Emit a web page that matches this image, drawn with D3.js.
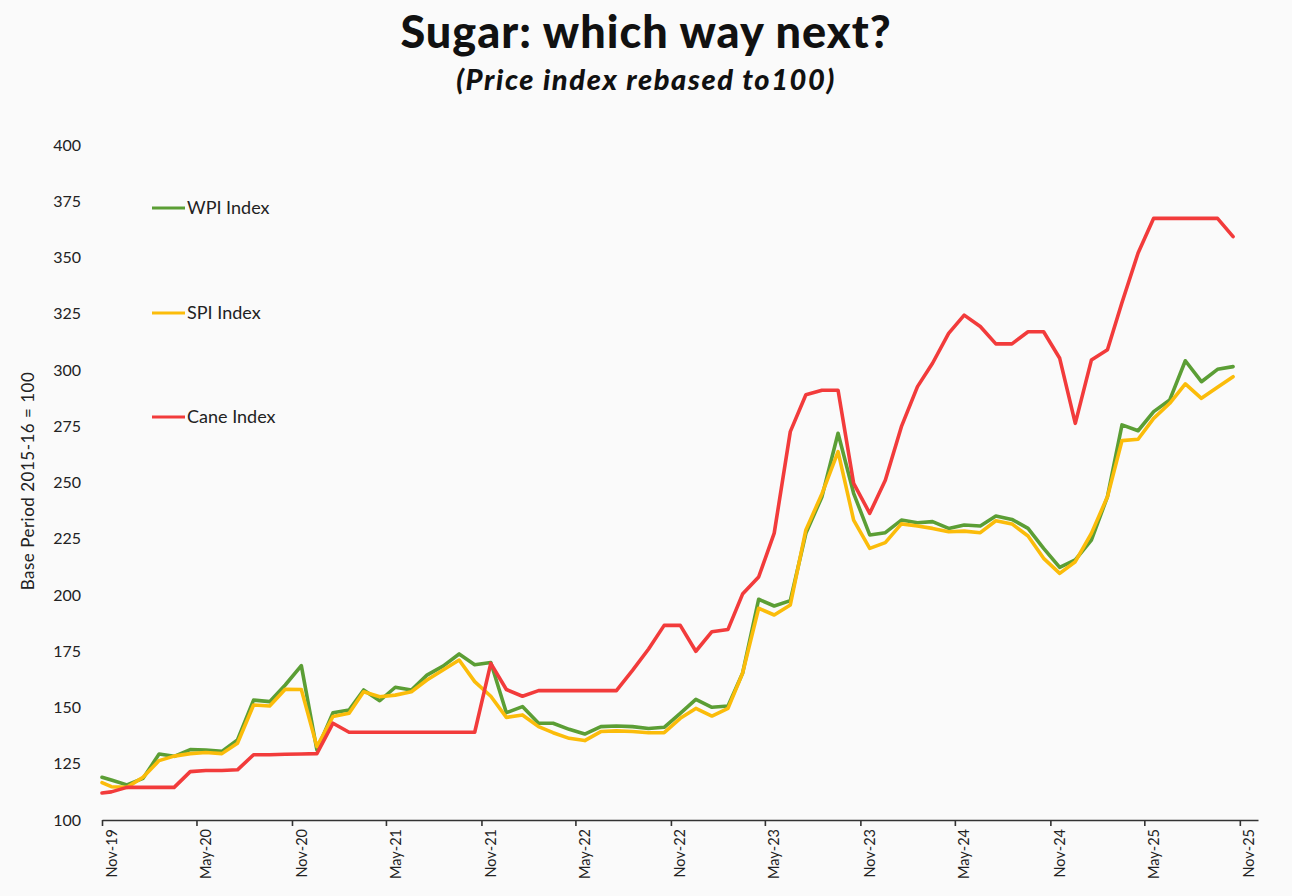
<!DOCTYPE html>
<html><head><meta charset="utf-8">
<script src="https://cdn.jsdelivr.net/npm/d3@7"></script>
<style>
html,body{margin:0;padding:0;background:#fafafa;}
svg{display:block;font-family:Lato,"Open Sans",sans-serif;}
</style></head><body>
<svg id="chart" width="1292" height="896"></svg>
<script>
// ---- data ----
const dates = ["2019-11-01","2019-11-19","2019-12-19",
"2020-01-19","2020-02-19","2020-03-19","2020-04-19","2020-05-19","2020-06-19","2020-07-19","2020-08-19","2020-09-19","2020-10-19","2020-11-19","2020-12-19",
"2021-01-19","2021-02-19","2021-03-19","2021-04-19","2021-05-19","2021-06-19","2021-07-19","2021-08-19","2021-09-19","2021-10-19","2021-11-19","2021-12-19",
"2022-01-19","2022-02-19","2022-03-19","2022-04-19","2022-05-19","2022-06-19","2022-07-19","2022-08-19","2022-09-19","2022-10-19","2022-11-19","2022-12-19",
"2023-01-19","2023-02-19","2023-03-19","2023-04-19","2023-05-19","2023-06-19","2023-07-19","2023-08-19","2023-09-19","2023-10-19","2023-11-19","2023-12-19",
"2024-01-19","2024-02-19","2024-03-19","2024-04-19","2024-05-19","2024-06-19","2024-07-19","2024-08-19","2024-09-19","2024-10-19","2024-11-19","2024-12-19",
"2025-01-19","2025-02-19","2025-03-19","2025-04-19","2025-05-19","2025-06-19","2025-07-19","2025-08-19","2025-09-19","2025-10-19"];

const wpi = [119,117.8,115.6,118.5,129.3,128.3,131.3,131.1,130.5,135.6,153.3,152.6,160,168.6,131.1,
147.7,148.9,157.8,153,159,157.8,164.4,168.4,173.8,169,170,147.7,
150.4,143,143,140.3,138.2,141.5,141.8,141.5,140.7,141.2,147.4,153.6,
150.1,150.7,165.2,198.1,195.1,197.5,227.4,243.7,271.9,245.2,226.7,227.7,
233.3,232.1,232.6,229.6,231.1,230.7,235.1,233.6,229.6,220.7,212.3,215.6,
224.4,243.7,275.6,273,281.5,286.7,304.1,294.8,300.3,301.5];

const spi = [116.6,114.8,114.5,119,126.4,128.4,129.5,130,129.5,134.1,151.1,150.7,158.1,158,132.6,
146,147.4,157,154.8,155.5,157,162.2,166.7,171.1,161.5,155,145.6,
146.7,141.5,138.8,136.3,135.3,139.3,139.6,139.3,138.8,138.8,145.2,149.6,
146.2,149.6,165.2,194.1,191.1,195.6,228.9,245,263.7,233.3,220.7,223.3,
231.6,230.7,229.6,228.1,228.4,227.7,233,231.6,226.2,216.3,209.6,214.8,
227.4,243.7,268.6,269.2,278.5,285.2,293.8,287.4,292.3,297];

const cane = [112,112.5,114.5,114.5,114.5,114.5,121.5,122,122,122.3,129,129,129.2,129.3,129.5,
143,139,139,139,139,139,139,139,139,139,169.6,158,
155,157.5,157.5,157.5,157.5,157.5,157.5,166.5,176,186.5,186.5,175,
183.7,184.7,200.4,208,227.5,272.6,289,291,291,249.6,236.3,251,
274.8,292.6,303,316.3,324.4,319.3,311.6,311.6,317,317,305.2,276.3,
304.4,309,330,352,367.4,367.4,367.4,367.4,367.4,359.3];

const tickLabels = ["Nov-19","May-20","Nov-20","May-21","Nov-21","May-22","Nov-22","May-23","Nov-23","May-24","Nov-24","May-25","Nov-25"];
const yTicks = [100,125,150,175,200,225,250,275,300,325,350,375,400];
const seriesNames = ["WPI Index","SPI Index","Cane Index"];
const seriesColors = ["#5b9e35","#fbbc0a","#f23b3b"];

// ---- chart ----
const svg = d3.select("#chart");
svg.append("rect").attr("width",1292).attr("height",896).attr("fill","#fafafa");

const parseDate = d3.timeParse("%Y-%m-%d");
const parseTick = d3.timeParse("%b-%y");
const x = d3.scaleTime()
  .domain([parseDate("2019-11-01"), parseDate("2025-12-06")])
  .range([102, 1258]);
const y = d3.scaleLinear().domain([100, 400]).range([820, 145]);

// title
svg.append("text").attr("x",646).attr("y",48).attr("text-anchor","middle")
  .attr("font-size",45).attr("font-weight",900).attr("letter-spacing",1).attr("fill","#111")
  .text("Sugar: which way next?");
svg.append("text").attr("x",646).attr("y",90).attr("text-anchor","middle")
  .attr("font-size",29).attr("font-weight",900).attr("font-style","italic").attr("letter-spacing",1.6).attr("fill","#111")
  .text("(Price index rebased to100)");

// y axis (labels only)
const yAxis = svg.append("g").attr("transform","translate(84,0)")
  .call(d3.axisLeft(y).tickValues(yTicks).tickSize(0).tickPadding(3));
yAxis.select(".domain").remove();
yAxis.selectAll("text").attr("font-size",16).attr("font-family","Lato, sans-serif").attr("fill","#222");

svg.append("text").attr("transform","translate(34,481) rotate(-90)")
  .attr("text-anchor","middle").attr("font-size",17).attr("letter-spacing",0.5).attr("fill","#222")
  .text("Base Period 2015-16 = 100");

// x axis
const xAxis = svg.append("g").attr("transform","translate(0,820)")
  .call(d3.axisBottom(x).tickValues(tickLabels.map(parseTick))
    .tickFormat(d3.timeFormat("%b-%y")).tickSize(6).tickSizeOuter(0));
xAxis.select(".domain").attr("stroke","#333").attr("stroke-width",1.6);
xAxis.selectAll(".tick line").attr("stroke","#333").attr("stroke-width",1.6);
xAxis.selectAll("text")
  .attr("transform","rotate(-90)")
  .attr("text-anchor","end")
  .attr("x",-9).attr("y",9).attr("dy","0.35em")
  .attr("font-size",14.5).attr("font-family","Lato, sans-serif").attr("fill","#222");

// lines
const seriesData = [wpi, spi, cane];
const line = d3.line()
  .x((d,i) => x(parseDate(dates[i])))
  .y(d => y(d));
seriesData.forEach((s,k) => {
  svg.append("path").datum(s)
    .attr("fill","none").attr("stroke",seriesColors[k])
    .attr("stroke-width",3.6).attr("stroke-linejoin","round").attr("stroke-linecap","round")
    .attr("d", line);
});

// legend
const legendY = [208, 313, 417];
seriesNames.forEach((n,k) => {
  svg.append("line").attr("x1",152).attr("x2",185).attr("y1",legendY[k]).attr("y2",legendY[k])
    .attr("stroke",seriesColors[k]).attr("stroke-width",3);
  svg.append("text").attr("x",187).attr("y",legendY[k]).attr("dy","0.35em")
    .attr("font-size",18).attr("fill","#222").text(n);
});
</script>
</body></html>
